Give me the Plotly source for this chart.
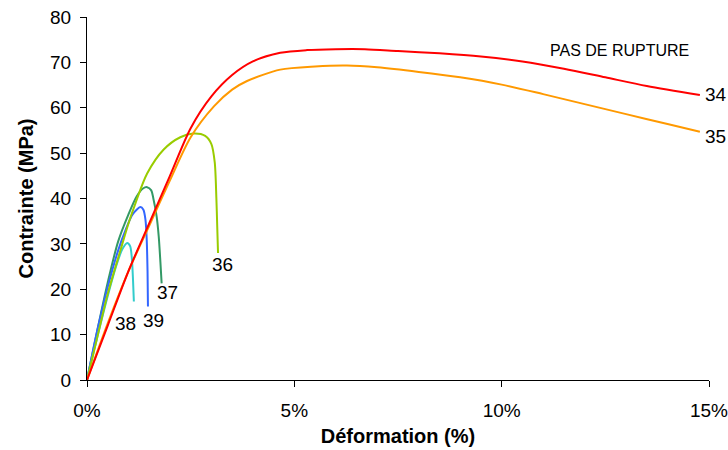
import plotly.graph_objects as go

# strain (%) / stress (MPa) per specimen
x34 = [0, 0.5, 1.0, 1.5, 2.0, 2.5, 3.0, 3.5, 4.0, 4.66, 5.3, 6.0, 6.7, 7.5, 8.5, 9.5, 10.5, 11.5, 12.5, 13.5, 14.78]
y34 = [0, 12, 24, 34.5, 45, 55.5, 62.5, 67.2, 70.2, 72.1, 72.7, 72.9, 72.9, 72.5, 72.0, 71.3, 70.2, 68.6, 66.7, 64.8, 62.8]

x35 = [0, 0.5, 1.0, 1.5, 2.0, 2.5, 3.06, 3.5, 3.86, 4.66, 5.5, 6.27, 7.0, 8.0, 9.0, 10.0, 11.0, 12.0, 13.0, 14.0, 14.78]
y35 = [0, 12.5, 24, 34, 44, 53.5, 60.3, 64.0, 65.9, 68.4, 69.1, 69.3, 68.9, 67.9, 66.7, 65.1, 63.0, 60.8, 58.6, 56.4, 54.7]

x36 = [0, 0.25, 0.5, 0.81, 1.0, 1.17, 1.45, 1.85, 2.25, 2.57, 2.85, 3.0, 3.08, 3.12, 3.14, 3.16]
y36 = [0, 9.5, 19, 28.7, 34.5, 39, 45.5, 50.8, 53.5, 54.3, 53.8, 52, 48, 40, 34, 28]

x37 = [0, 0.25, 0.5, 0.75, 1.0, 1.2, 1.35, 1.45, 1.55, 1.6, 1.68, 1.73, 1.77, 1.8]
y37 = [0, 11, 21.5, 30.5, 36.5, 40.5, 42.2, 42.5, 41.8, 40, 36, 31.6, 26, 21.3]

x38 = [0, 0.25, 0.5, 0.7, 0.85, 0.97, 1.04, 1.08, 1.11, 1.13]
y38 = [0, 9.5, 18.5, 25, 28.8, 30.2, 29.5, 27, 22, 17.3]

x39 = [0, 0.25, 0.5, 0.75, 0.95, 1.1, 1.29, 1.36, 1.41, 1.44, 1.46, 1.47]
y39 = [0, 11, 20.5, 28.5, 33.5, 36.5, 38.1, 37.5, 35.3, 31, 24, 16.2]

series_names = ["34", "35", "36", "37", "38", "39"]
series_x = [x34, x35, x36, x37, x38, x39]
series_y = [y34, y35, y36, y37, y38, y39]
colors = ["#ff0000", "#ff9900", "#99cc00", "#339966", "#33cccc", "#3366ff"]

# label anchor (data coords) and side: "end" labels sit just right of the curve end
label_x = [14.78, 14.78, 3.27, 1.93, 0.94, 1.60]
label_y = [62.9, 53.6, 25.4, 19.3, 12.4, 13.2]
label_anchor = ["left", "left", "center", "center", "center", "center"]

x_ticks = [0, 5, 10, 15]
x_ticktext = ["0%", "5%", "10%", "15%"]

FONT = "Arial, Liberation Sans, sans-serif"

fig = go.Figure()
order = [3, 5, 4, 2, 1, 0]
for i in order:
    fig.add_trace(go.Scatter(
        x=series_x[i], y=series_y[i], mode="lines", name=series_names[i],
        line=dict(color=colors[i], width=2, shape="spline", smoothing=0.8),
        showlegend=False, hoverinfo="skip", cliponaxis=False))

for i, name in enumerate(series_names):
    fig.add_annotation(x=label_x[i], y=label_y[i], text=name, showarrow=False,
                       xref="x", yref="y", xanchor=label_anchor[i], yanchor="middle",
                       xshift=(3 if label_anchor[i] == "left" else 0),
                       font=dict(family=FONT, size=19, color="#000000"))

fig.add_annotation(x=12.83, y=72.7, text="PAS DE RUPTURE", showarrow=False,
                   xref="x", yref="y", xanchor="center", yanchor="middle",
                   font=dict(family=FONT, size=16, color="#000000"))

fig.update_layout(
    width=728, height=450,
    margin=dict(l=87, r=19, t=17, b=70, autoexpand=False),
    paper_bgcolor="white", plot_bgcolor="white",
    font=dict(family=FONT, size=19, color="#000000"),
)
fig.update_xaxes(
    range=[0, 15], tickvals=x_ticks, ticktext=x_ticktext, automargin=False,
    ticklabeloverflow="allow", ticklabelstandoff=7,
    showgrid=False, zeroline=False, showline=True, linecolor="#000000", linewidth=1,
    ticks="outside", ticklen=6, tickcolor="#000000",
    tickfont=dict(family=FONT, size=19),
    title=dict(text="<b>Déformation (%)</b>", font=dict(family=FONT, size=20), standoff=9),
)
fig.update_yaxes(
    range=[0, 80], dtick=10, tick0=0, automargin=False,
    ticklabeloverflow="allow", ticklabelstandoff=5,
    showgrid=False, zeroline=False, showline=True, linecolor="#000000", linewidth=1,
    ticks="outside", ticklen=6, tickcolor="#000000",
    tickfont=dict(family=FONT, size=19),
    title=dict(text="<b>Contrainte (MPa)</b>", font=dict(family=FONT, size=20), standoff=11),
)

fig.write_html("out.html", config={"displayModeBar": False},
               post_script="document.body.style.margin='0';document.body.style.padding='0';")
